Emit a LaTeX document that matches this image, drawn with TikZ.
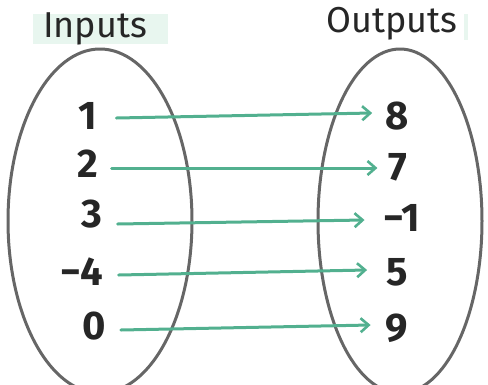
\documentclass[tikz,border=0pt]{standalone}
\usepackage{fontspec}
\setmainfont{Fira Sans}
\usetikzlibrary{arrows.meta}
\definecolor{arrowgreen}{HTML}{52B08F}
\definecolor{ovalgray}{HTML}{666666}
\definecolor{hilite}{HTML}{E8F6EF}
\tikzset{
  num/.style={font=\fontsize{40}{42}\selectfont\bfseries, text=black!85, inner sep=1pt},
  title/.style={font=\fontsize{36}{38}\selectfont, text=black!85, inner sep=1pt},
  oval/.style={draw=ovalgray, line width=3pt},
  maparrow/.style={draw=arrowgreen, line width=3pt, -{Straight Barb[length=8pt,width=14pt,line width=2.6pt]}, line cap=round}
}
\begin{document}
\begin{tikzpicture}[x=1pt,y=-1pt]
\useasboundingbox (0,0) rectangle (488,384);
\fill[hilite] (33,14) rectangle (168,44);
\fill[hilite] (464,14) rectangle (468,40);
\node[title] (in) at (95,29) {Inputs};
\node[title] (out) at (392,24) {Outputs};
\draw[oval] (100,221) ellipse [x radius=92, y radius=172];
\draw[oval] (400,221) ellipse [x radius=82, y radius=172];
\node[num] (a1) at (88,116) {1};
\node[num] (a2) at (88,164) {2};
\node[num] (a3) at (92,214) {3};
\node[num] (a4) at (82,272) {−4};
\node[num] (a5) at (94,326) {0};
\node[num] (b1) at (397,116) {8};
\node[num] (b2) at (398,167) {7};
\node[num] (b3) at (402,218) {−1};
\node[num] (b4) at (397,272) {5};
\node[num] (b5) at (397,328) {9};
\draw[maparrow] ([xshift=18pt,yshift=-2pt]a1.east) -- ([xshift=-12pt,yshift=3pt]b1.west);
\draw[maparrow] ([xshift=12pt,yshift=-4pt]a2.east) -- ([xshift=-10pt,yshift=-1pt]b2.west);
\draw[maparrow] ([xshift=14pt,yshift=-10pt]a3.east) -- ([xshift=-18pt,yshift=-2pt]b3.west);
\draw[maparrow] ([xshift=14pt,yshift=-3pt]a4.east) -- ([xshift=-18pt,yshift=2pt]b4.west);
\draw[maparrow] ([xshift=14pt,yshift=-4pt]a5.east) -- ([xshift=-14pt,yshift=3pt]b5.west);
\end{tikzpicture}
\end{document}
